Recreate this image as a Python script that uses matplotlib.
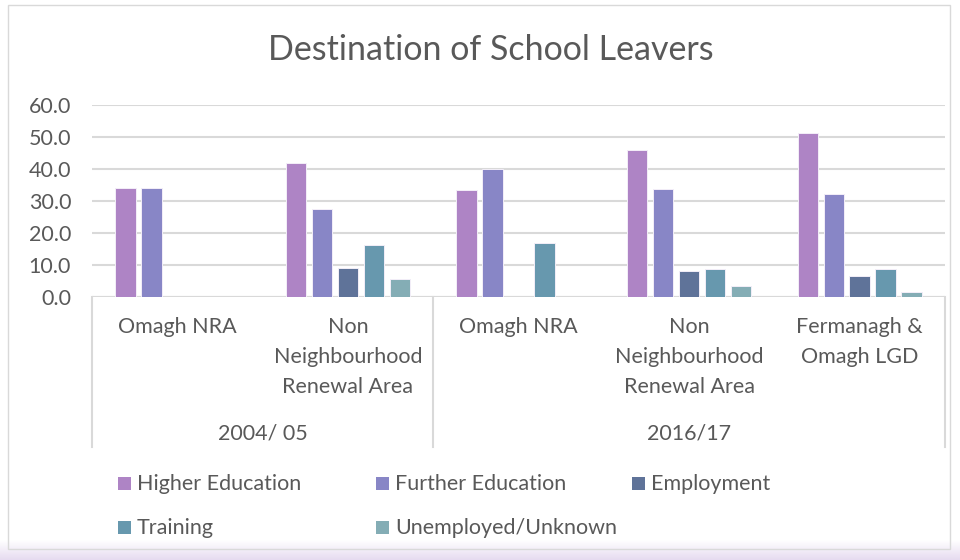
import numpy as np
import matplotlib
matplotlib.use("Agg")
from matplotlib import pyplot as plt
import matplotlib.transforms as mtransforms
from matplotlib.patches import Rectangle
from matplotlib.lines import Line2D

plt.rcParams['font.family'] = ['Lato', 'DejaVu Sans']

# data
categories = ["Omagh NRA", "Non\nNeighbourhood\nRenewal Area", "Omagh NRA",
              "Non\nNeighbourhood\nRenewal Area", "Fermanagh &\nOmagh LGD"]
periods = ["2004/ 05", "2016/17"]
period_span = [(0, 2), (2, 5)]  # category index ranges per period

series_names = ["Higher Education", "Further Education", "Employment",
                "Training", "Unemployed/Unknown"]
higher_ed = [34.2, 41.8, 33.4, 45.9, 51.4]
further_ed = [34.2, 27.6, 40.0, 33.8, 32.1]
employment = [np.nan, 9.0, np.nan, 8.0, 6.6]
training = [np.nan, 16.1, 16.8, 8.9, 8.6]
unemployed = [np.nan, 5.7, np.nan, 3.4, 1.6]
series_values = [higher_ed, further_ed, employment, training, unemployed]
colors = ["#AE84C5", "#8886C6", "#5F7399", "#6798AE", "#84ADB5"]

W, H = 960, 560
fig = plt.figure(figsize=(W / 100, H / 100), dpi=100)

def fx(px):
    return px / W

def fy(py):
    return 1 - py / H

# chart frame
fig.patches.append(Rectangle((fx(8), fy(549)), fx(942), fy(5) - fy(549),
                             transform=fig.transFigure, fill=False,
                             edgecolor="#D9D9D9", linewidth=1.0))
# soft purple shadow at the bottom
gax = fig.add_axes([0, 0, 1, fy(540)])
grad = np.linspace(0, 1, 50).reshape(-1, 1)
gax.imshow(grad, aspect="auto", cmap=matplotlib.colors.LinearSegmentedColormap.from_list(
    "shade", ["#E6DBF0", "#FFFFFF"]), extent=[0, 1, 0, 1], origin="lower")
gax.axis("off")

ax = fig.add_axes([fx(92), fy(297), fx(945) - fx(92), fy(105) - fy(297)])
x = np.arange(len(categories))
step = 0.152
width = 0.12
for i, (name, vals, c) in enumerate(zip(series_names, series_values, colors)):
    ax.bar(x + (i - 2) * step, vals, width=width, color=c,
           edgecolor="#F3EEF8", linewidth=0.7, label=name, zorder=3)

ax.set_xlim(-0.5, len(categories) - 0.5)
ax.set_ylim(0, 60)
ax.set_yticks(np.arange(0, 61, 10))
ax.set_yticklabels([f"{v:.1f}" for v in np.arange(0, 61, 10)])
ax.tick_params(axis="y", length=0, pad=15, labelsize=15.5, labelcolor="#595959")
ax.set_xticks([])
ax.grid(axis="y", color="#D9D9D9", linewidth=1.5, zorder=0)
ax.axhline(0, color="#D9D9D9", linewidth=1.5, zorder=2)
for s in ax.spines.values():
    s.set_visible(False)

# multi-level category axis
trans = mtransforms.blended_transform_factory(ax.transData, fig.transFigure)
for xi, lab in zip(x, categories):
    ax.text(xi, fy(317), lab, transform=trans, ha="center", va="top",
            fontsize=15.5, color="#595959", linespacing=1.62)
for lab, (a, b) in zip(periods, period_span):
    ax.text((a + b - 1) / 2, fy(434), lab, transform=trans, ha="center",
            va="center", fontsize=15.5, color="#595959")
for bx in [-0.5, 1.5, len(categories) - 0.5]:
    ax.add_line(Line2D([bx, bx], [fy(297), fy(447)], transform=trans,
                       color="#D9D9D9", linewidth=1.5, clip_on=False))

fig.text(fx(491), fy(50), "Destination of School Leavers", ha="center",
         va="center", fontsize=24.5, color="#595959")

# legend laid out like the reference
leg_x = [118, 376, 632]
leg_y = [484, 528]
for i, (name, c) in enumerate(zip(series_names, colors)):
    col, row = i % 3, i // 3
    px, py = leg_x[col], leg_y[row]
    fig.patches.append(Rectangle((fx(px), fy(py + 6)), fx(13), fy(py - 7) - fy(py + 6),
                                 transform=fig.transFigure, facecolor=c,
                                 edgecolor="none"))
    fig.text(fx(px + 19), fy(py), name, ha="left", va="center",
             fontsize=15.5, color="#595959")

fig.savefig("out.png", dpi=100)
